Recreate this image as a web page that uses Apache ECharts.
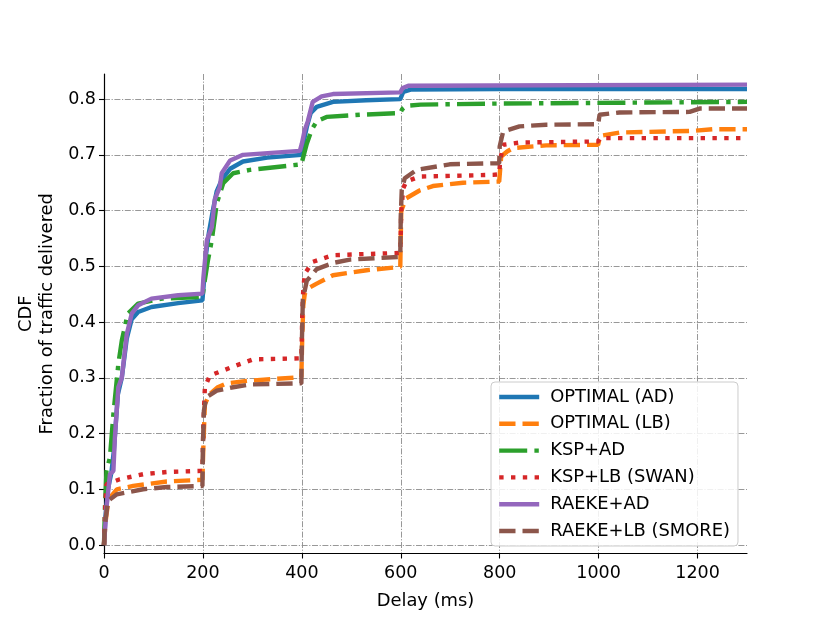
<!DOCTYPE html>
<html lang="en">
<head>
    <meta charset="UTF-8">
    <title>CDF of delay</title>
    <script src="https://cdn.jsdelivr.net/npm/echarts@6/dist/echarts.min.js"></script>
    <style>
        html, body {
            margin: 0;
            padding: 0;
            background: #fff;
        }
        #chart {
            width: 830px;
            height: 623px;
        }
    </style>
</head>
<body>
    <div id="chart"></div>
    <script>
        // tick labels
        const xTicks = [0, 200, 400, 600, 800, 1000, 1200];
        const yTicks = [0, 0.1, 0.2, 0.3, 0.4, 0.5, 0.6, 0.7, 0.8];

        const seriesNames = ['OPTIMAL (AD)', 'OPTIMAL (LB)', 'KSP+AD', 'KSP+LB (SWAN)', 'RAEKE+AD', 'RAEKE+LB (SMORE)'];

        // [delay ms, fraction delivered]
        const optimalAD = [[0,0],[3,0.05],[8,0.1],[15,0.13],[20,0.17],[28,0.27],[36,0.30],[46,0.37],[56,0.405],
            [69,0.418],[96,0.427],[150,0.434],[199,0.439],[201,0.46],[206,0.52],[212,0.56],[220,0.60],[228,0.635],
            [238,0.655],[255,0.675],[281,0.688],[330,0.695],[399,0.70],[403,0.72],[410,0.75],[418,0.775],[430,0.786],
            [463,0.795],[530,0.798],[599,0.80],[605,0.813],[620,0.817],[800,0.818],[1300,0.818]];

        const optimalLB = [[0,0],[3,0.04],[8,0.075],[12,0.085],[26,0.10],[59,0.106],[127,0.114],[199,0.117],
            [201,0.18],[204,0.253],[214,0.271],[230,0.283],[248,0.29],[295,0.295],[399,0.301],[401,0.38],[403,0.43],
            [406,0.451],[416,0.462],[430,0.469],[463,0.484],[531,0.493],[599,0.499],[601,0.6],[611,0.622],[638,0.636],
            [665,0.644],[726,0.65],[799,0.652],[803,0.697],[815,0.706],[827,0.712],[894,0.717],[999,0.718],
            [1003,0.734],[1042,0.74],[1190,0.743],[1231,0.746],[1300,0.746]];

        const kspAD = [[0,0],[2,0.07],[5,0.133],[12,0.157],[19,0.235],[29,0.325],[36,0.367],[48,0.415],[69,0.433],
            [117,0.442],[199,0.445],[203,0.47],[210,0.51],[218,0.547],[228,0.613],[241,0.649],[261,0.667],[295,0.673],
            [399,0.683],[404,0.70],[410,0.72],[420,0.745],[430,0.76],[450,0.768],[520,0.772],[599,0.775],[603,0.782],
            [612,0.788],[640,0.79],[800,0.792],[1300,0.795]];

        const kspLB = [[0,0],[3,0.08],[5,0.109],[32,0.118],[79,0.127],[127,0.131],[199,0.133],[201,0.22],[204,0.283],
            [214,0.304],[261,0.32],[301,0.333],[399,0.335],[401,0.42],[403,0.46],[406,0.487],[422,0.508],[463,0.52],
            [599,0.524],[601,0.6],[605,0.64],[611,0.652],[638,0.661],[786,0.664],[799,0.665],[801,0.69],[807,0.718],
            [840,0.722],[999,0.724],[1003,0.73],[1300,0.73]];

        const raekeAD = [[0,0],[5,0.067],[12,0.127],[19,0.133],[22,0.193],[29,0.283],[36,0.30],[46,0.378],[56,0.415],
            [69,0.43],[96,0.442],[150,0.448],[199,0.451],[201,0.48],[208,0.547],[218,0.57],[224,0.62],[234,0.642],
            [238,0.667],[255,0.69],[281,0.70],[396,0.707],[400,0.72],[406,0.745],[412,0.76],[422,0.795],[440,0.805],
            [463,0.809],[599,0.812],[604,0.82],[615,0.824],[1300,0.826]];

        const raekeLB = [[0,0],[2,0.038],[8,0.079],[26,0.091],[79,0.10],[127,0.104],[199,0.106],[200,0.18],[202,0.241],
            [207,0.265],[228,0.277],[261,0.283],[295,0.288],[399,0.29],[400,0.36],[402,0.44],[410,0.474],[430,0.495],
            [463,0.506],[497,0.512],[599,0.517],[600,0.59],[602,0.637],[608,0.658],[632,0.673],[699,0.683],[799,0.685],
            [800,0.715],[807,0.742],[840,0.751],[894,0.754],[999,0.755],[1002,0.772],[1042,0.776],[1184,0.777],
            [1204,0.783],[1300,0.783]];

        const allData = [optimalAD, optimalLB, kspAD, kspLB, raekeAD, raekeLB];
        const colors = ['#1f77b4', '#ff7f0e', '#2ca02c', '#d62728', '#9467bd', '#8c564b'];
        const lw = 4.4;
        const dashes = ['solid', [16.3, 7], [28, 7.2, 4.4, 7.2], [4.4, 7.4], 'solid', [16.3, 7]];

        const font = 'DejaVu Sans';
        const gridLine = { color: '#8c8c8c', width: 0.9, type: [6, 1.6, 1.2, 1.6] };

        const chart = echarts.init(document.getElementById('chart'), null, { renderer: 'canvas' });
        chart.setOption({
            animation: false,
            backgroundColor: '#fff',
            textStyle: { fontFamily: font },
            grid: { left: 104, right: 83, top: 74, bottom: 69.5 },
            legend: {
                orient: 'vertical',
                left: 491,
                top: 382,
                padding: [5, 8, 5, 6],
                itemWidth: 40,
                itemHeight: 14,
                itemGap: 6.8,
                borderColor: '#cccccc',
                borderWidth: 1,
                borderRadius: 4,
                backgroundColor: 'rgba(255,255,255,0.85)',
                itemStyle: { color: 'rgba(0,0,0,0)', borderWidth: 0, opacity: 0 },
                lineStyle: { width: lw },
                textStyle: { fontFamily: font, fontSize: 17.9, color: '#000', lineHeight: 20, padding: [0, 0, 0, 6] },
                data: seriesNames
            },
            xAxis: {
                type: 'value',
                min: 0,
                max: 1300,
                name: 'Delay (ms)',
                nameLocation: 'middle',
                nameGap: 39,
                nameTextStyle: { fontFamily: font, fontSize: 17.9, color: '#000' },
                axisLine: { onZero: false, lineStyle: { color: '#000', width: 1.2 } },
                axisTick: { customValues: xTicks, length: 5, lineStyle: { color: '#000', width: 1.1 } },
                axisLabel: { customValues: xTicks, margin: 11, fontSize: 17.5, color: '#000', fontFamily: font,
                    formatter: v => String(v) },
                splitLine: { show: true, lineStyle: gridLine }
            },
            yAxis: {
                type: 'value',
                min: -0.0152,
                max: 0.845,
                name: 'CDF\nFraction of traffic delivered',
                nameLocation: 'middle',
                nameRotate: 90,
                nameGap: 46,
                nameTextStyle: { fontFamily: font, fontSize: 17.9, color: '#000', lineHeight: 20.5 },
                axisLine: { show: true, onZero: false, lineStyle: { color: '#000', width: 1.2 } },
                axisTick: { show: true, customValues: yTicks, length: 5, lineStyle: { color: '#000', width: 1.1 } },
                axisLabel: { customValues: yTicks, margin: 8, fontSize: 17.5, color: '#000', fontFamily: font,
                    formatter: v => v.toFixed(1) },
                splitLine: { show: true, lineStyle: gridLine }
            },
            series: seriesNames.map((name, i) => ({
                name: name,
                type: 'line',
                data: allData[i],
                symbol: 'none',
                color: colors[i],
                lineStyle: { color: colors[i], width: lw, type: dashes[i], cap: 'butt' }
            }))
        });
    </script>
</body>
</html>
